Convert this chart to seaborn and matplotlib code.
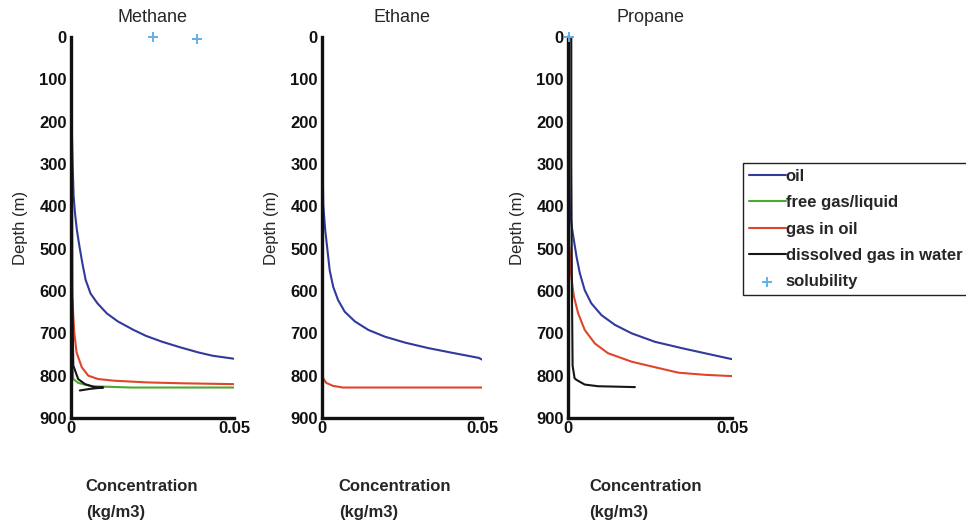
import numpy as np
import pandas as pd
import matplotlib
matplotlib.use("Agg")
import matplotlib.pyplot as plt
import seaborn as sns

# ---- data (depth in m, concentration in kg/m3) ----
gases = ["Methane", "Ethane", "Propane"]
phase_labels = ["oil", "free gas/liquid", "gas in oil", "dissolved gas in water"]
depth_ticks = [0, 100, 200, 300, 400, 500, 600, 700, 800, 900]
conc_ticks = [0, 0.05]

methane_oil_depth = [0, 100, 200, 300, 375, 414, 456, 495, 535, 574, 606, 629, 653, 672, 692,
                     706, 720, 733, 745, 753, 760]
methane_oil_conc = [0, 0.0001, 0.0002, 0.0005, 0.0008, 0.0012, 0.0018, 0.0026, 0.0035, 0.0045,
                    0.0060, 0.0081, 0.0110, 0.0144, 0.0192, 0.0230, 0.0280, 0.0335, 0.0390,
                    0.0435, 0.05]
methane_free_depth = [720, 761, 808, 817, 825, 828, 828]
methane_free_conc = [0.0003, 0.0004, 0.0007, 0.0022, 0.0063, 0.0185, 0.05]
methane_gasoil_depth = [619, 698, 745, 780, 800, 808, 812, 816, 818, 820]
methane_gasoil_conc = [0.0004, 0.0010, 0.0017, 0.0033, 0.0053, 0.0083, 0.0134, 0.0236, 0.034, 0.05]
methane_water_depth = [0, 300, 600, 776, 808, 820, 827, 828, 831, 835]
methane_water_conc = [0.0002, 0.0003, 0.0004, 0.0007, 0.0022, 0.0043, 0.0073, 0.0099, 0.006, 0.0027]
methane_sol_depth = [0, 5]
methane_sol_conc = [0.0252, 0.0388]

ethane_oil_depth = [0, 200, 300, 398, 456, 503, 551, 590, 621, 649, 672, 692, 708, 722, 735,
                    746, 758, 762]
ethane_oil_conc = [0, 0.0001, 0.0002, 0.0004, 0.0010, 0.0017, 0.0024, 0.0035, 0.0050, 0.0071,
                   0.0103, 0.0145, 0.0197, 0.0260, 0.0333, 0.0407, 0.049, 0.05]
ethane_gasoil_depth = [804, 817, 824, 828, 828]
ethane_gasoil_conc = [0.0002, 0.0013, 0.0034, 0.0065, 0.05]

propane_oil_depth = [0, 200, 300, 414, 456, 519, 558, 598, 629, 657, 680, 700, 720, 735, 749, 761]
propane_oil_conc = [0, 0.0002, 0.0003, 0.0006, 0.0013, 0.0026, 0.0036, 0.0051, 0.0071, 0.0102,
                    0.0143, 0.0194, 0.0265, 0.0347, 0.0429, 0.05]
propane_free_depth = [414, 650, 871]
propane_free_conc = [0.0003, 0.0003, 0.0003]
propane_gasoil_depth = [485, 503, 566, 613, 653, 692, 724, 747, 767, 780, 793, 798, 801]
propane_gasoil_conc = [0.0002, 0.0005, 0.0010, 0.0018, 0.0031, 0.0051, 0.0082, 0.0122, 0.0194,
                       0.0265, 0.0337, 0.0418, 0.05]
propane_water_depth = [0, 300, 600, 776, 806, 810, 821, 825, 826, 827]
propane_water_conc = [0.0010, 0.0010, 0.0012, 0.0014, 0.0020, 0.0026, 0.0051, 0.0092, 0.0150, 0.0204]
propane_sol_depth = [0]
propane_sol_conc = [0.0002]

colors = {"oil": "#2f3a9c", "free gas/liquid": "#4ca82e", "gas in oil": "#e0452b",
          "dissolved gas in water": "#161616", "solubility": "#62b0e8"}

curves = {
    "Methane": {"oil": (methane_oil_conc, methane_oil_depth),
                "free gas/liquid": (methane_free_conc, methane_free_depth),
                "gas in oil": (methane_gasoil_conc, methane_gasoil_depth),
                "dissolved gas in water": (methane_water_conc, methane_water_depth)},
    "Ethane": {"oil": (ethane_oil_conc, ethane_oil_depth),
               "gas in oil": (ethane_gasoil_conc, ethane_gasoil_depth)},
    "Propane": {"oil": (propane_oil_conc, propane_oil_depth),
                "free gas/liquid": (propane_free_conc, propane_free_depth),
                "gas in oil": (propane_gasoil_conc, propane_gasoil_depth),
                "dissolved gas in water": (propane_water_conc, propane_water_depth)},
}
solubility = {"Methane": (methane_sol_conc, methane_sol_depth),
              "Ethane": ([], []),
              "Propane": (propane_sol_conc, propane_sol_depth)}

sns.set_style("white")
plt.rcParams["font.family"] = ["Liberation Sans", "DejaVu Sans"]

W, H = 966, 525
fig = plt.figure(figsize=(W / 100, H / 100), dpi=100)

# axes boxes in pixels: (left, right)
boxes = {"Methane": (71, 234), "Ethane": (322, 482), "Propane": (568, 732)}
top_px, bot_px = 37, 418
label_x = {"Methane": 0.09, "Ethane": 0.105, "Propane": 0.13}

for gas in gases:
    l, r = boxes[gas]
    ax = fig.add_axes([l / W, 1 - bot_px / H, (r - l) / W, (bot_px - top_px) / H])
    for phase in phase_labels:
        if phase not in curves[gas]:
            continue
        x, y = curves[gas][phase]
        df = pd.DataFrame({"conc": x, "depth": y})
        sns.lineplot(data=df, x="conc", y="depth", sort=False, estimator=None,
                     color=colors[phase], linewidth=1.5, ax=ax, label=phase)
    sx, sy = solubility[gas]
    sns.scatterplot(x=sx, y=sy, marker="+", s=45, linewidth=1.4, color=colors["solubility"],
                    ax=ax, label="solubility", clip_on=False, zorder=5)
    if gas == "Methane":
        handles, labels = ax.get_legend_handles_labels()
    if ax.get_legend() is not None:
        ax.get_legend().remove()

    ax.set_xlim(0, 0.05)
    ax.set_ylim(900, 0)
    ax.set_xticks(conc_ticks)
    ax.set_xticklabels(["0", "0.05"])
    ax.set_yticks(depth_ticks)
    sns.despine(ax=ax)
    for s in ["left", "bottom"]:
        ax.spines[s].set_linewidth(2.4)
        ax.spines[s].set_color("#111111")
    ax.tick_params(direction="in", length=4, width=2, colors="#111111", labelsize=12)
    ax.tick_params(axis="y", pad=3)
    ax.tick_params(axis="x", pad=2)
    for t in ax.get_xticklabels() + ax.get_yticklabels():
        t.set_fontweight("bold")
    ax.set_title(gas, fontsize=13, pad=11)
    ax.set_ylabel("Depth (m)", fontsize=12, labelpad=8)
    ax.set_xlabel("Concentration\n(kg/m3)", fontsize=12, fontweight="bold",
                  ha="left", va="top", linespacing=1.9)
    ax.xaxis.set_label_coords(label_x[gas], -0.16)

leg = fig.legend(handles, labels, loc="upper left", bbox_to_anchor=(743 / W, 1 - 163 / H),
                 frameon=True, fancybox=False, edgecolor="#222222", framealpha=1,
                 prop={"size": 12, "weight": "bold"}, handlelength=2.2,
                 handletextpad=0.0, labelspacing=0.68, borderpad=0.35, borderaxespad=0)
leg.get_frame().set_linewidth(1.0)

fig.savefig("out.png", dpi=100)
